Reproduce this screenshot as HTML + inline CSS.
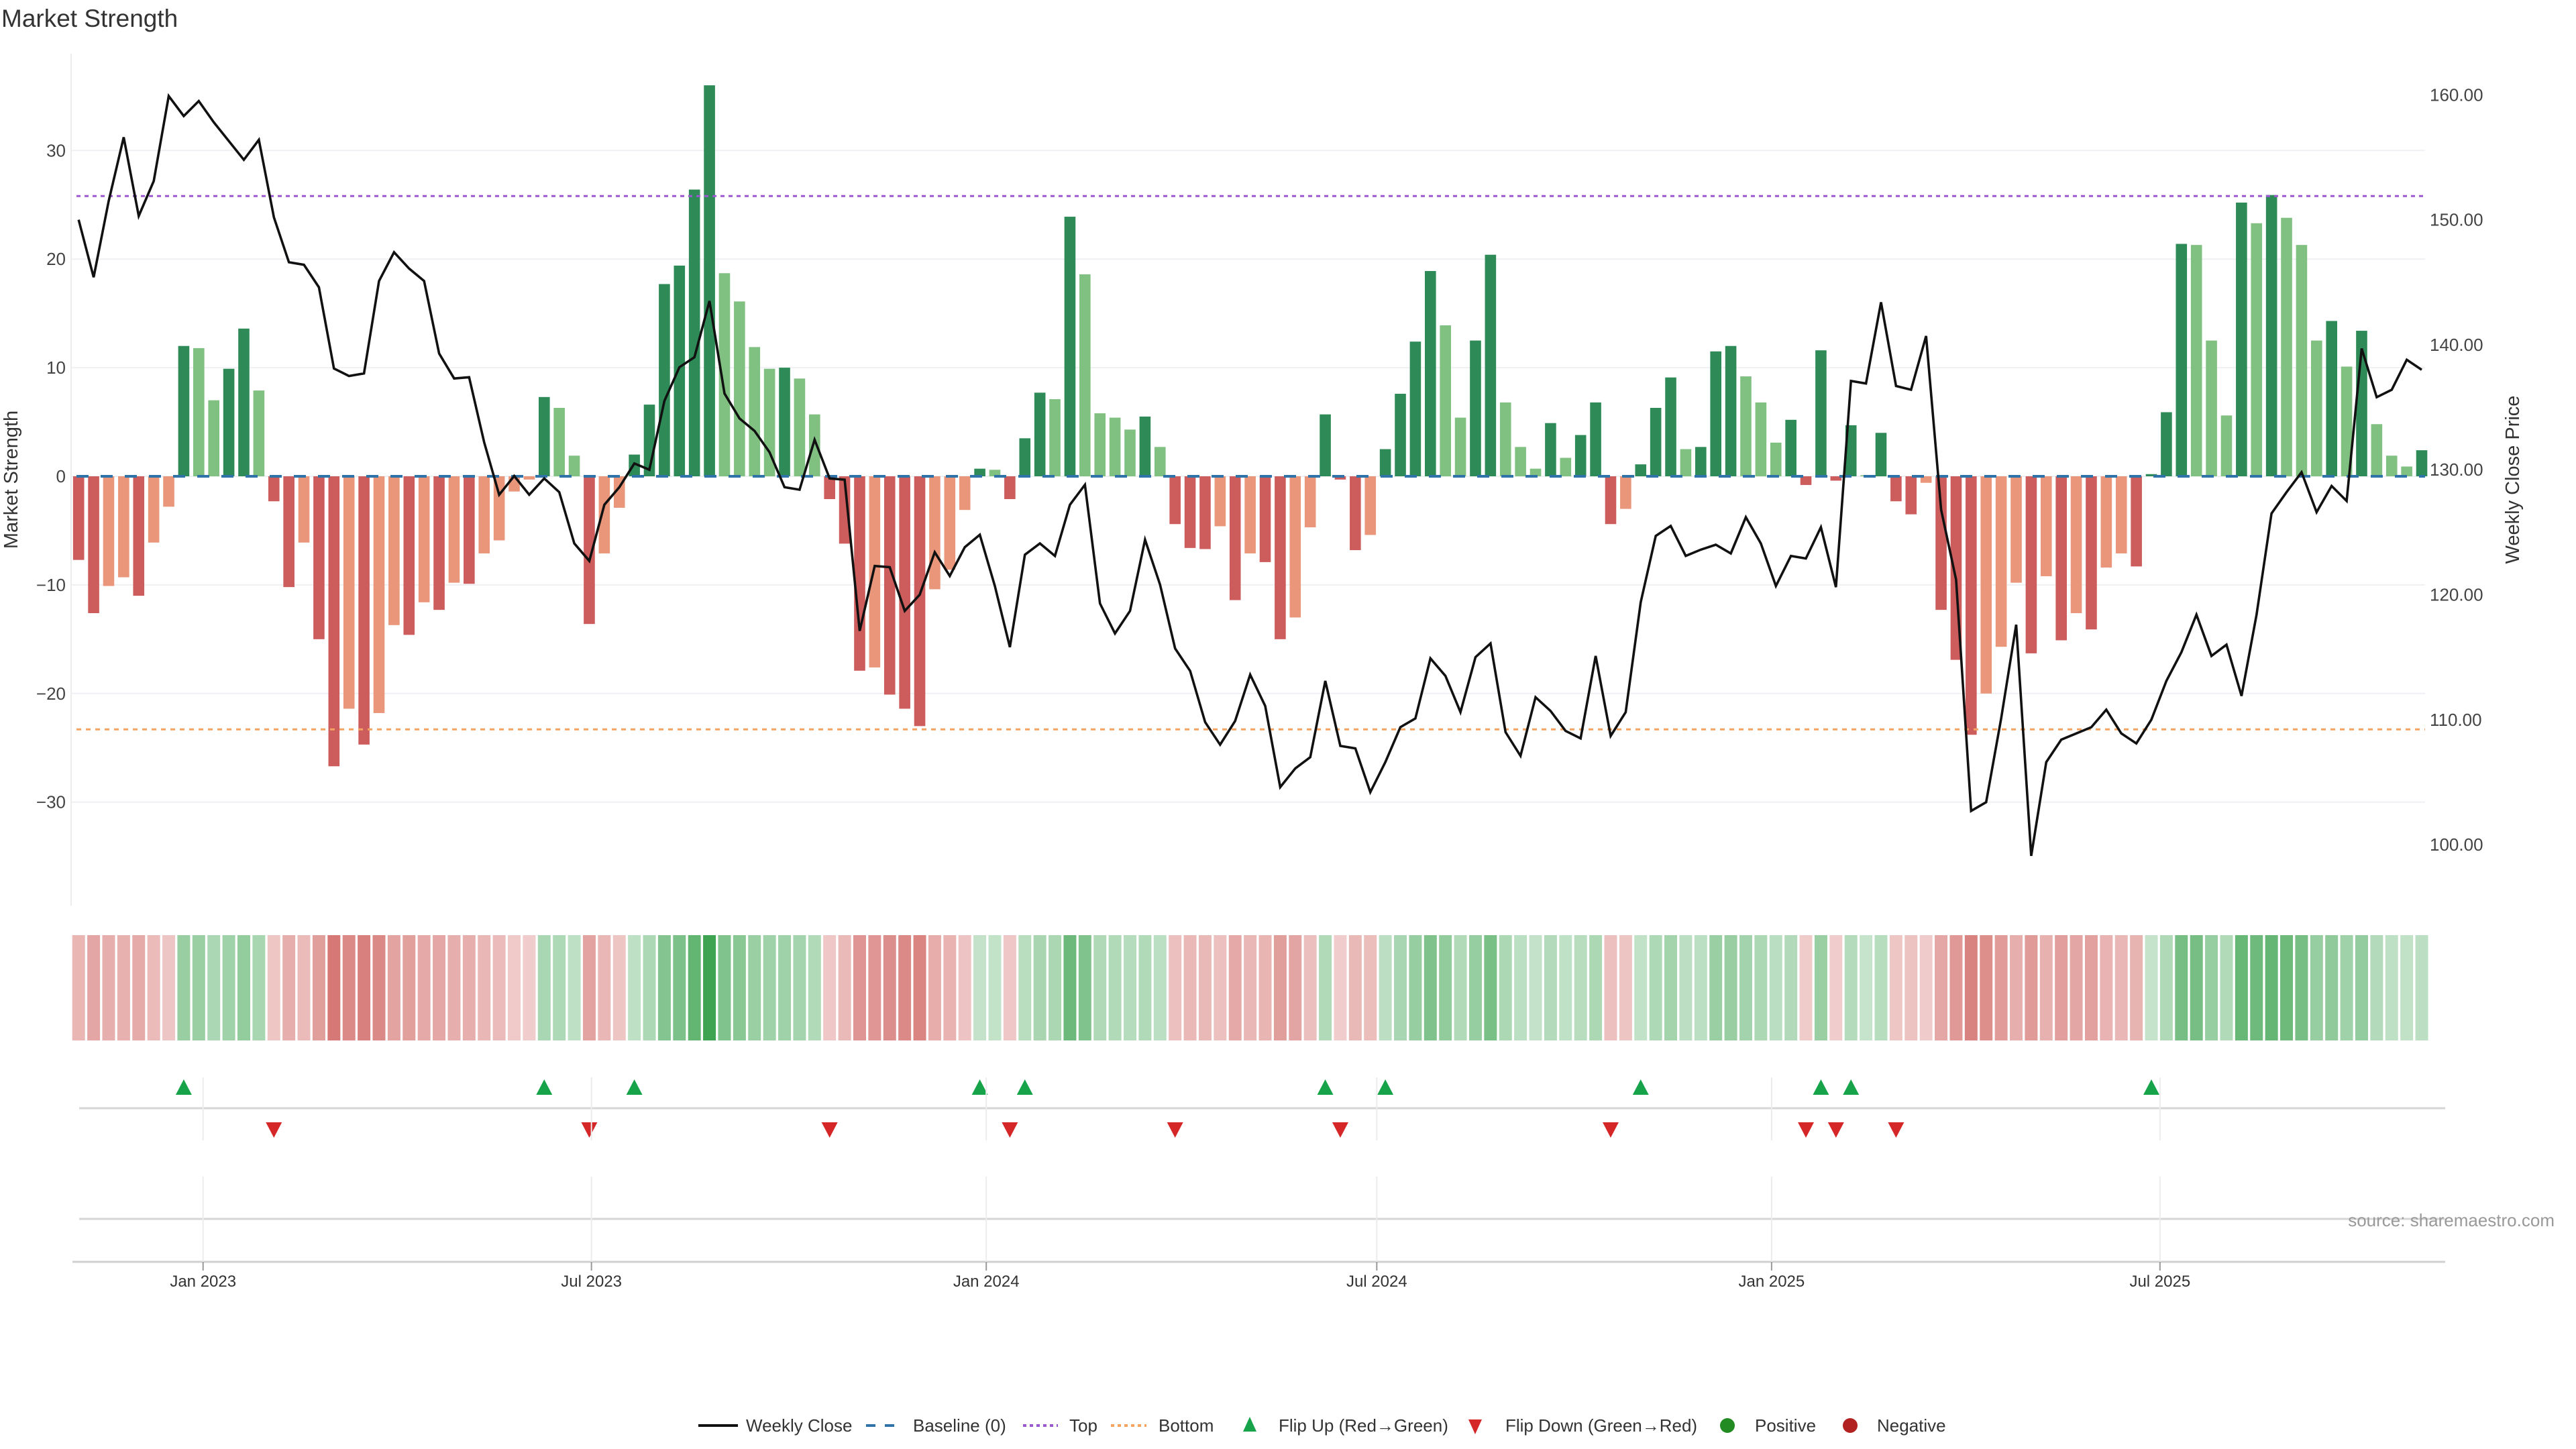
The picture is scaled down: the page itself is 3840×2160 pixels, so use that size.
<!DOCTYPE html>
<html><head><meta charset="utf-8"><title>Market Strength</title>
<style>
html,body{margin:0;padding:0;background:#fff;}
svg{display:block;font-family:"Liberation Sans","DejaVu Sans",sans-serif;}
</style></head>
<body>
<svg id="chart" width="3840" height="2160" viewBox="0 0 3840 2160" xmlns="http://www.w3.org/2000/svg">
<rect x="0" y="0" width="3840" height="2160" fill="#ffffff"/>
<text x="2" y="40" font-size="37" fill="#333">Market Strength</text>
<g id="grid"></g>
<g id="bars"></g>
<g id="refs"></g>
<g id="line"></g>
<g id="axes"></g>
<g id="heat"></g>
<g id="flips"></g>
<g id="xaxis"></g>
<text x="3808" y="1828" font-size="26" fill="#999" text-anchor="end">source: sharemaestro.com</text>
<g id="legend" transform="translate(0,-12)">
  <g>
    <line x1="1041" y1="2137" x2="1100" y2="2137" stroke="#111" stroke-width="4"/>
    <text x="1112" y="2146" font-size="26" fill="#333">Weekly Close</text>
  </g>
  <g>
    <line x1="1291" y1="2137" x2="1344" y2="2137" stroke="#2f73a8" stroke-width="4" stroke-dasharray="14 14"/>
    <text x="1361" y="2146" font-size="26" fill="#333">Baseline (0)</text>
  </g>
  <g>
    <line x1="1525" y1="2137" x2="1577" y2="2137" stroke="#9b59d0" stroke-width="4" stroke-dasharray="5 5"/>
    <text x="1594" y="2146" font-size="26" fill="#333">Top</text>
  </g>
  <g>
    <line x1="1656" y1="2137" x2="1709" y2="2137" stroke="#f4a460" stroke-width="4" stroke-dasharray="5 5"/>
    <text x="1727" y="2146" font-size="26" fill="#333">Bottom</text>
  </g>
  <g>
    <polygon points="1863,2124 1873,2146 1853,2146" fill="#17a34a"/>
    <text x="1906" y="2146" font-size="26" fill="#333">Flip Up (Red→Green)</text>
  </g>
  <g>
    <polygon points="2189,2128 2209,2128 2199,2150" fill="#d62728"/>
    <text x="2244" y="2146" font-size="26" fill="#333">Flip Down (Green→Red)</text>
  </g>
  <g>
    <circle cx="2575" cy="2137" r="11" fill="#228b22"/>
    <text x="2616" y="2146" font-size="26" fill="#333">Positive</text>
  </g>
  <g>
    <circle cx="2758" cy="2137" r="11" fill="#b22222"/>
    <text x="2798" y="2146" font-size="26" fill="#333">Negative</text>
  </g>
</g>
</svg>
<script>
const strength = [
-7.7,-12.6,-10.1,-9.3,-11.0,-6.1,-2.8,12.0,11.8,7.0,9.9,13.6,7.9,-2.3,-10.2,-6.1,-15.0,-26.7,-21.4,-24.7,
-21.8,-13.7,-14.6,-11.6,-12.3,-9.8,-9.9,-7.1,-5.9,-1.4,-0.3,7.3,6.3,1.9,-13.6,-7.1,-2.9,2.0,6.6,17.7,
19.4,26.4,36.0,18.7,16.1,11.9,9.9,10.0,9.0,5.7,-2.1,-6.2,-17.9,-17.6,-20.1,-21.4,-23.0,-10.4,-8.6,-3.1,
0.7,0.6,-2.1,3.5,7.7,7.1,23.9,18.6,5.8,5.4,4.3,5.5,2.7,-4.4,-6.6,-6.7,-4.6,-11.4,-7.1,
-7.9,-15.0,-13.0,-4.7,5.7,-0.3,-6.8,-5.4,2.5,7.6,12.4,18.9,13.9,5.4,12.5,20.4,6.8,2.7,0.7,4.9,
1.7,3.8,6.8,-4.4,-3.0,1.1,6.3,9.1,2.5,2.7,11.5,12.0,9.2,6.8,3.1,5.2,-0.8,11.6,-0.4,4.7,
0.1,4.0,-2.3,-3.5,-0.6,-12.3,-16.9,-23.8,-20.0,-15.7,-9.8,-16.3,-9.2,-15.1,-12.6,-14.1,-8.4,-7.1,-8.3,
0.2,5.9,21.4,21.3,12.5,5.6,25.2,23.3,25.9,23.8,21.3,12.5,14.3,10.1,13.4,4.8,1.9,0.9,2.4
];
const closes = [
150.0,145.4,151.5,156.6,150.3,153.1,159.9,158.3,159.5,157.8,156.3,154.8,156.4,150.2,146.6,146.4,144.6,138.1,137.5,137.7,
145.1,147.4,146.1,145.1,139.3,137.3,137.4,132.2,128.0,129.5,128.0,129.3,128.2,124.1,122.7,127.2,128.6,130.5,130.0,135.5,
138.2,139.0,143.5,136.1,134.1,133.1,131.4,128.6,128.4,132.4,129.3,129.2,117.1,122.3,122.2,118.7,120.0,123.4,121.5,123.8,
124.8,120.7,115.8,123.2,124.1,123.1,127.2,128.8,119.3,116.9,118.7,124.4,120.8,115.7,113.9,109.8,108.0,109.9,113.6,
111.1,104.6,106.1,107.0,113.1,107.9,107.7,104.2,106.6,109.4,110.1,114.9,113.5,110.6,115.0,116.1,109.0,107.1,111.8,110.7,
109.1,108.5,115.1,108.7,110.6,119.4,124.7,125.5,123.1,123.6,124.0,123.3,126.2,124.1,120.7,123.1,122.9,125.4,120.6,137.1,
136.9,143.4,136.7,136.4,140.7,126.8,121.2,102.7,103.4,110.1,117.6,99.1,106.6,108.4,108.9,109.4,110.8,108.9,108.1,
110.0,113.1,115.4,118.4,115.1,116.0,111.9,118.4,126.5,128.2,129.8,126.6,128.7,127.5,139.7,135.8,136.4,138.8,138.0
];
const firstWeek = "2022-11-04";
const leftTicks = [-30,-20,-10,0,10,20,30];
const rightTicks = [100,110,120,130,140,150,160];
const xTickLabels = ["Jan 2023","Jul 2023","Jan 2024","Jul 2024","Jan 2025","Jul 2025"];
const xTickDates = ["2023-01-01","2023-07-01","2024-01-01","2024-07-01","2025-01-01","2025-07-01"];
const topLevel = [25.8];
const bottomLevel = [-23.3];

const NS = "http://www.w3.org/2000/svg";
const X0 = 117.2, PITCH = 22.39, PL = 106, PR = 3615;
function x(k){ return X0 + k*PITCH; }
function yS(v){ return 710 - v*16.19; }
function yP(p){ return 141.3 + (160-p)*18.63; }
function xDate(d){ return x((new Date(d) - new Date(firstWeek))/(7*86400000)); }
function mk(tag, attrs, parent){
  const e = document.createElementNS(NS, tag);
  for (const a in attrs) e.setAttribute(a, attrs[a]);
  parent.appendChild(e); return e;
}
const grid = document.getElementById('grid');
const axes = document.getElementById('axes');

let sp = mk('line',{x1:PL,y1:80,x2:PL,y2:1350,stroke:'#ececec','stroke-width':2},grid);



leftTicks.forEach(v=>{
  const g = mk('line',{x1:PL,y1:yS(v),x2:PR,y2:yS(v),stroke:'#eef0f3','stroke-width':2},grid);
  
  
  const t = mk('text',{x:98,y:yS(v)+9,'font-size':26,fill:'#444','text-anchor':'end'},axes);
  t.textContent = v<0 ? '\u2212'+Math.abs(v) : String(v);
  
  
});
rightTicks.forEach(p=>{
  const t = mk('text',{x:3622,y:yP(p)+9,'font-size':26,fill:'#444'},axes);
  t.textContent = p.toFixed(2);
  
  
});
let lt = mk('text',{x:26,y:715,'font-size':29,fill:'#333','text-anchor':'middle',transform:'rotate(-90 26 715)'},axes);
lt.textContent='Market Strength';


let rt = mk('text',{x:3755,y:715,'font-size':29,fill:'#333','text-anchor':'middle',transform:'rotate(-90 3755 715)'},axes);
rt.textContent='Weekly Close Price';



const bars = document.getElementById('bars');
const BW = 16.6;
strength.forEach((v,i)=>{
  const prev = i>0 ? strength[i-1] : 0;
  const flip = i===0 || (prev>=0) !== (v>=0);
  const strong = flip || Math.abs(v) >= Math.abs(prev);
  const fill = v>=0 ? (strong ? '#2e8b57' : '#80c080') : (strong ? '#cd5c5c' : '#e9967a');
  const y0 = yS(0), y1 = yS(v);
  const r = mk('rect',{x:x(i)-BW/2,y:Math.min(y0,y1),width:BW,height:Math.max(1,Math.abs(y1-y0)),fill:fill},bars);
  
  
});

const refs = document.getElementById('refs');
let bl = mk('line',{x1:PL+8,y1:yS(0),x2:PR,y2:yS(0),stroke:'#2f73a8','stroke-width':4,'stroke-dasharray':'18 18'},refs);


let tl = mk('line',{x1:PL+8,y1:yS(topLevel[0]),x2:PR,y2:yS(topLevel[0]),stroke:'#9b59d0','stroke-width':3,'stroke-dasharray':'6 6'},refs);


let bt = mk('line',{x1:PL+8,y1:yS(bottomLevel[0]),x2:PR,y2:yS(bottomLevel[0]),stroke:'#f4a460','stroke-width':3,'stroke-dasharray':'7 7'},refs);



const lineG = document.getElementById('line');
const pts = closes.map((p,i)=>x(i).toFixed(1)+','+yP(p).toFixed(1)).join(' ');
let pl = mk('polyline',{points:pts,fill:'none',stroke:'#111','stroke-width':3.6,'stroke-linejoin':'miter'},lineG);



const heat = document.getElementById('heat');
const maxAbs = Math.max(...strength.map(Math.abs));
strength.forEach((v,i)=>{
  const a = 0.3 + 0.7*Math.abs(v)/maxAbs;
  const base = v>=0 ? [63,164,82] : [205,92,88];
  const c = base.map(b=>Math.round(255 - (255-b)*a));
  const r = mk('rect',{x:x(i)-9.5,y:1394,width:19,height:157,fill:'rgb('+c.join(',')+')'},heat);
  
  
});

const flips = document.getElementById('flips');
let s1 = mk('line',{x1:118,y1:1652,x2:3645,y2:1652,stroke:'#d6d6d6','stroke-width':3},flips);


let s2 = mk('line',{x1:118,y1:1817,x2:3645,y2:1817,stroke:'#d6d6d6','stroke-width':3},flips);


for (let i=1;i<strength.length;i++){
  const a = strength[i-1], b = strength[i];
  if (a<0 && b>=0){
    const cx = x(i);
    const t = mk('polygon',{points:`${cx},1609 ${cx+12},1632 ${cx-12},1632`,fill:'#17a34a'},flips);
    
    
  } else if (a>=0 && b<0){
    const cx = x(i);
    const t = mk('polygon',{points:`${cx-12},1673 ${cx+12},1673 ${cx},1696`,fill:'#d62728'},flips);
    
    
  }
}

const xa = document.getElementById('xaxis');
let ax = mk('line',{x1:108,y1:1881,x2:3645,y2:1881,stroke:'#d0d0d0','stroke-width':3},xa);


xTickDates.forEach((d,i)=>{
  const tx = xDate(d);
  const g1 = mk('line',{x1:tx,y1:1606,x2:tx,y2:1700,stroke:'#ececec','stroke-width':2},xa);
  
  
  const g2 = mk('line',{x1:tx,y1:1754,x2:tx,y2:1881,stroke:'#ececec','stroke-width':2},xa);
  
  
  const tk = mk('line',{x1:tx,y1:1881,x2:tx,y2:1894,stroke:'#999','stroke-width':2},xa);
  
  
  const t = mk('text',{x:tx,y:1918,'font-size':24,fill:'#333','text-anchor':'middle'},xa);
  t.textContent = xTickLabels[i];
  
  
});
</script>
</body></html>
